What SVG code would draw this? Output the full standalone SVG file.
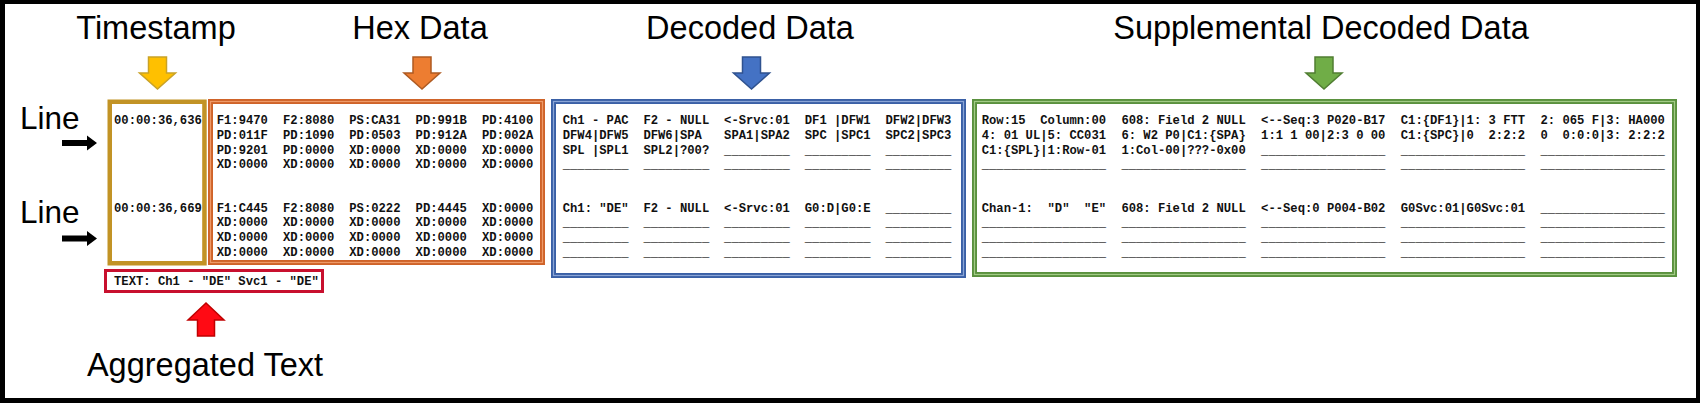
<svg xmlns="http://www.w3.org/2000/svg" width="1700" height="403" viewBox="0 0 1700 403">
<style>
.title{font-family:"Liberation Sans",Arial,sans-serif;font-size:32.5px;fill:#000;text-anchor:middle}
.line{font-family:"Liberation Sans",Arial,sans-serif;font-size:31.5px;fill:#000}
.mono{font-family:"Liberation Mono","Courier New",monospace;font-weight:bold;font-size:12.2px;fill:#111;white-space:pre}
.band{fill:none;stroke-width:5}
.mid{fill:none;stroke-width:1.2}
</style>
<rect x="0" y="0" width="1700" height="403" fill="#000"/>
<rect x="5" y="4" width="1691" height="394" fill="#fff"/>

<g id="title-timestamp"><text class="title" x="156" y="39">Timestamp</text></g>
<g id="title-hex"><text class="title" x="420" y="39">Hex Data</text></g>
<g id="title-decoded"><text class="title" x="750" y="39">Decoded Data</text></g>
<g id="title-supplemental"><text class="title" x="1321" y="39">Supplemental Decoded Data</text></g>
<g id="title-aggregated"><text class="title" x="205" y="375.5">Aggregated Text</text></g>
<g id="line-1"><text class="line" x="20" y="128.5">Line</text></g>
<g id="line-2"><text class="line" x="20" y="223">Line</text></g>

<g id="timestamp-box">
<rect x="109.75" y="101.75" width="94.7" height="161.5" fill="#fff" stroke="#C29325" stroke-width="4.5"/>
<text class="mono" x="114" y="124">00:00:36,636</text>
<text class="mono" x="114" y="211.7">00:00:36,669</text>
</g>

<g id="hex-box">
<rect x="210.5" y="101.5" width="332" height="161" fill="#fff" class="band" stroke="#CF6329"/>
<rect x="210.5" y="101.5" width="332" height="161" class="mid" stroke="#EE9A68"/>
<text class="mono" y="124"><tspan x="216.7">F1:9470</tspan><tspan x="283">F2:8080</tspan><tspan x="349.3">PS:CA31</tspan><tspan x="415.6">PD:991B</tspan><tspan x="482">PD:4100</tspan></text>
<text class="mono" y="138.75"><tspan x="216.7">PD:011F</tspan><tspan x="283">PD:1090</tspan><tspan x="349.3">PD:0503</tspan><tspan x="415.6">PD:912A</tspan><tspan x="482">PD:002A</tspan></text>
<text class="mono" y="153.5"><tspan x="216.7">PD:9201</tspan><tspan x="283">PD:0000</tspan><tspan x="349.3">XD:0000</tspan><tspan x="415.6">XD:0000</tspan><tspan x="482">XD:0000</tspan></text>
<text class="mono" y="168.25"><tspan x="216.7">XD:0000</tspan><tspan x="283">XD:0000</tspan><tspan x="349.3">XD:0000</tspan><tspan x="415.6">XD:0000</tspan><tspan x="482">XD:0000</tspan></text>
<text class="mono" y="211.7"><tspan x="216.7">F1:C445</tspan><tspan x="283">F2:8080</tspan><tspan x="349.3">PS:0222</tspan><tspan x="415.6">PD:4445</tspan><tspan x="482">XD:0000</tspan></text>
<text class="mono" y="226.45"><tspan x="216.7">XD:0000</tspan><tspan x="283">XD:0000</tspan><tspan x="349.3">XD:0000</tspan><tspan x="415.6">XD:0000</tspan><tspan x="482">XD:0000</tspan></text>
<text class="mono" y="241.2"><tspan x="216.7">XD:0000</tspan><tspan x="283">XD:0000</tspan><tspan x="349.3">XD:0000</tspan><tspan x="415.6">XD:0000</tspan><tspan x="482">XD:0000</tspan></text>
<text class="mono" y="255.95"><tspan x="216.7">XD:0000</tspan><tspan x="283">XD:0000</tspan><tspan x="349.3">XD:0000</tspan><tspan x="415.6">XD:0000</tspan><tspan x="482">XD:0000</tspan></text>
</g>

<g id="decoded-box">
<rect x="553.5" y="101.5" width="410" height="174" fill="#fff" class="band" stroke="#3A60A6"/>
<rect x="553.5" y="101.5" width="410" height="174" class="mid" stroke="#8AA5D6"/>
<text class="mono" y="124"><tspan x="562.7">Ch1 - PAC</tspan><tspan x="643.4">F2 - NULL</tspan><tspan x="724.1">&lt;-Srvc:01</tspan><tspan x="804.8">DF1 |DFW1</tspan><tspan x="885.5">DFW2|DFW3</tspan></text>
<text class="mono" y="138.75"><tspan x="562.7">DFW4|DFW5</tspan><tspan x="643.4">DFW6|SPA</tspan><tspan x="724.1">SPA1|SPA2</tspan><tspan x="804.8">SPC |SPC1</tspan><tspan x="885.5">SPC2|SPC3</tspan></text>
<text class="mono" y="153.5"><tspan x="562.7">SPL |SPL1</tspan><tspan x="643.4">SPL2|?00?</tspan><tspan x="724.1">_________</tspan><tspan x="804.8">_________</tspan><tspan x="885.5">_________</tspan></text>
<text class="mono" y="168.25"><tspan x="562.7">_________</tspan><tspan x="643.4">_________</tspan><tspan x="724.1">_________</tspan><tspan x="804.8">_________</tspan><tspan x="885.5">_________</tspan></text>
<text class="mono" y="211.7"><tspan x="562.7">Ch1: "DE"</tspan><tspan x="643.4">F2 - NULL</tspan><tspan x="724.1">&lt;-Srvc:01</tspan><tspan x="804.8">G0:D|G0:E</tspan><tspan x="885.5">_________</tspan></text>
<text class="mono" y="226.45"><tspan x="562.7">_________</tspan><tspan x="643.4">_________</tspan><tspan x="724.1">_________</tspan><tspan x="804.8">_________</tspan><tspan x="885.5">_________</tspan></text>
<text class="mono" y="241.2"><tspan x="562.7">_________</tspan><tspan x="643.4">_________</tspan><tspan x="724.1">_________</tspan><tspan x="804.8">_________</tspan><tspan x="885.5">_________</tspan></text>
<text class="mono" y="255.95"><tspan x="562.7">_________</tspan><tspan x="643.4">_________</tspan><tspan x="724.1">_________</tspan><tspan x="804.8">_________</tspan><tspan x="885.5">_________</tspan></text>
</g>

<g id="supplemental-box">
<rect x="974.5" y="101.5" width="700" height="173" fill="#fff" class="band" stroke="#5A913E"/>
<rect x="974.5" y="101.5" width="700" height="173" class="mid" stroke="#A2CB86"/>
<text class="mono" y="124"><tspan x="981.7">Row:15  Column:00</tspan><tspan x="1121.4">608: Field 2 NULL</tspan><tspan x="1261.1">&lt;--Seq:3 P020-B17</tspan><tspan x="1400.8">C1:{DF1}|1: 3 FTT</tspan><tspan x="1540.5">2: 065 F|3: HA000</tspan></text>
<text class="mono" y="138.75"><tspan x="981.7">4: 01 UL|5: CC031</tspan><tspan x="1121.4">6: W2 P0|C1:{SPA}</tspan><tspan x="1261.1">1:1 1 00|2:3 0 00</tspan><tspan x="1400.8">C1:{SPC}|0  2:2:2</tspan><tspan x="1540.5">0  0:0:0|3: 2:2:2</tspan></text>
<text class="mono" y="153.5"><tspan x="981.7">C1:{SPL}|1:Row-01</tspan><tspan x="1121.4">1:Col-00|???-0x00</tspan><tspan x="1261.1">_________________</tspan><tspan x="1400.8">_________________</tspan><tspan x="1540.5">_________________</tspan></text>
<text class="mono" y="168.25"><tspan x="981.7">_________________</tspan><tspan x="1121.4">_________________</tspan><tspan x="1261.1">_________________</tspan><tspan x="1400.8">_________________</tspan><tspan x="1540.5">_________________</tspan></text>
<text class="mono" y="211.7"><tspan x="981.7">Chan-1:  "D"  "E"</tspan><tspan x="1121.4">608: Field 2 NULL</tspan><tspan x="1261.1">&lt;--Seq:0 P004-B02</tspan><tspan x="1400.8">G0Svc:01|G0Svc:01</tspan><tspan x="1540.5">_________________</tspan></text>
<text class="mono" y="226.45"><tspan x="981.7">_________________</tspan><tspan x="1121.4">_________________</tspan><tspan x="1261.1">_________________</tspan><tspan x="1400.8">_________________</tspan><tspan x="1540.5">_________________</tspan></text>
<text class="mono" y="241.2"><tspan x="981.7">_________________</tspan><tspan x="1121.4">_________________</tspan><tspan x="1261.1">_________________</tspan><tspan x="1400.8">_________________</tspan><tspan x="1540.5">_________________</tspan></text>
<text class="mono" y="255.95"><tspan x="981.7">_________________</tspan><tspan x="1121.4">_________________</tspan><tspan x="1261.1">_________________</tspan><tspan x="1400.8">_________________</tspan><tspan x="1540.5">_________________</tspan></text>
</g>

<g id="aggregated-box">
<rect x="105.5" y="270.5" width="217" height="21" fill="#fff" stroke="#C8102E" stroke-width="3"/>
<text class="mono" x="114" y="285">TEXT: Ch1 - "DE" Svc1 - "DE"</text>
</g>

<g id="connectors" stroke-width="1.5" stroke-linejoin="miter">
<polygon points="148.5,57 166.5,57 166.5,73 175.5,73 157.5,89 139.5,73 148.5,73" fill="#FFC000" stroke="#C9A227"/>
<polygon points="413,57 431,57 431,73 440,73 422,89 404,73 413,73" fill="#ED7D31" stroke="#AE5A21"/>
<polygon points="742.5,57 760.5,57 760.5,73 769.5,73 751.5,89 733.5,73 742.5,73" fill="#4472C4" stroke="#2F528F"/>
<polygon points="1315,57 1333,57 1333,73 1342,73 1324,89 1306,73 1315,73" fill="#70AD47" stroke="#507E32"/>
<polygon points="197.5,336 214.5,336 214.5,320 224,320 206,303 188,320 197.5,320" fill="#FF0A14" stroke="#C00000"/>
<polygon points="62,140 87,140 87,135.5 97,143 87,150.5 87,146 62,146" fill="#000" stroke="none"/>
<polygon points="62,235.5 87,235.5 87,231 97,238.5 87,246 87,241.5 62,241.5" fill="#000" stroke="none"/>
</g>
</svg>
